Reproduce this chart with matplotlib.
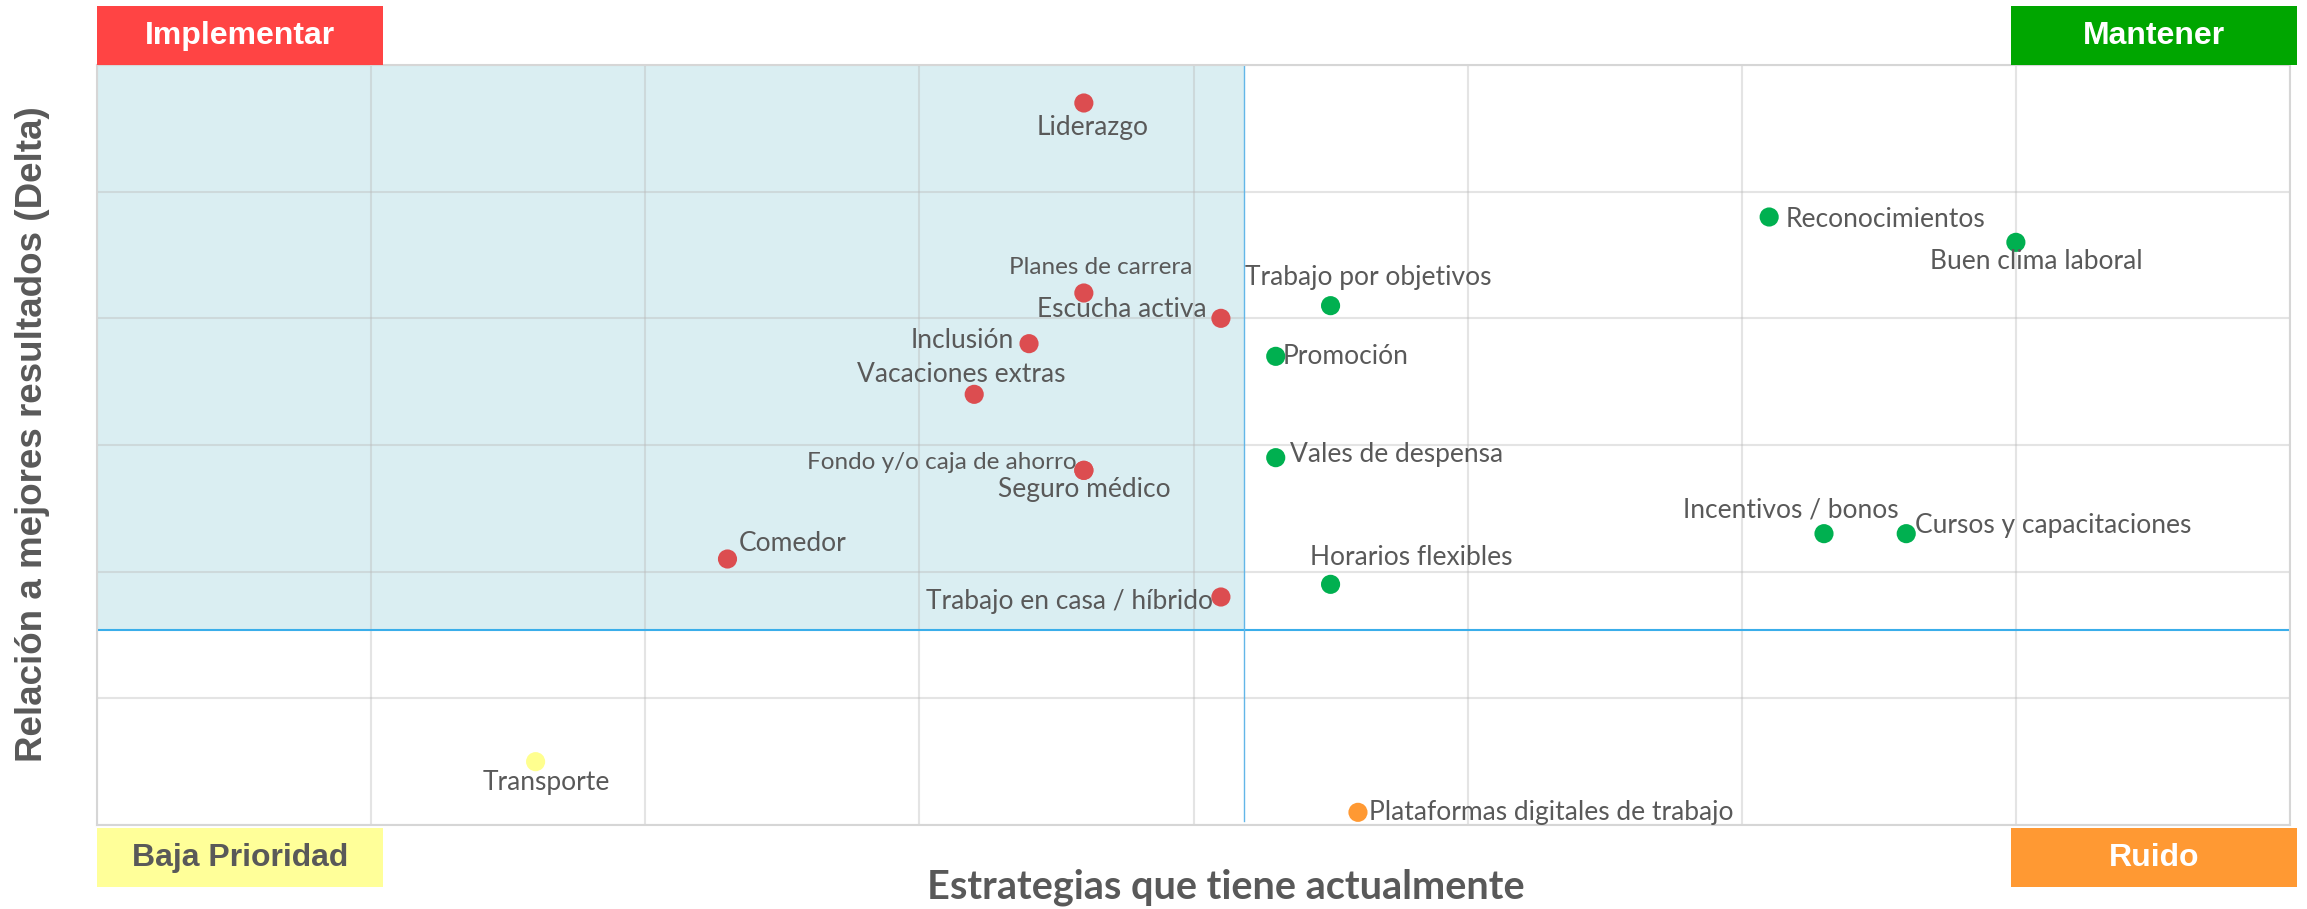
import matplotlib
matplotlib.use('Agg')
import matplotlib.pyplot as plt
from matplotlib.patches import Rectangle

# datos (escala 0-8 en x, 0-6 en y)
nombres = ['Liderazgo', 'Planes de carrera', 'Escucha activa', 'Inclusión',
           'Vacaciones extras', 'Fondo y/o caja de ahorro', 'Seguro médico',
           'Comedor', 'Trabajo en casa / híbrido', 'Transporte',
           'Plataformas digitales de trabajo', 'Trabajo por objetivos',
           'Promoción', 'Vales de despensa', 'Horarios flexibles',
           'Reconocimientos', 'Buen clima laboral', 'Incentivos / bonos',
           'Cursos y capacitaciones']
estrategias = [3.6, 3.6, 4.1, 3.4, 3.2, 3.6, 3.6, 2.3, 4.1, 1.6,
               4.6, 4.5, 4.3, 4.3, 4.5, 6.1, 7.0, 6.3, 6.6]
delta = [5.7, 4.2, 4.0, 3.8, 3.4, 2.8, 2.8, 2.1, 1.8, 0.5,
         0.1, 4.1, 3.7, 2.9, 1.9, 4.8, 4.6, 2.3, 2.3]
grupo = ['Implementar'] * 9 + ['Baja Prioridad', 'Ruido'] + ['Mantener'] * 8

corte_x = 4.185
corte_y = 1.537

colores = {'Implementar': '#dc4d50', 'Mantener': '#00b050',
           'Baja Prioridad': '#ffff8f', 'Ruido': '#ff9933'}

# posicion de cada etiqueta: (dx, dy en puntos, ha, va, tamaño)
etiquetas = {
    'Liderazgo': (6, -9, 'center', 'top', 19),
    'Planes de carrera': (12, 11, 'center', 'bottom', 17.5),
    'Escucha activa': (-10, 6.5, 'right', 'center', 19),
    'Inclusión': (-11, 2, 'right', 'center', 19),
    'Vacaciones extras': (-9, 14.5, 'center', 'center', 19),
    'Fondo y/o caja de ahorro': (-5, 6, 'right', 'center', 17.5),
    'Seguro médico': (0, -14, 'center', 'center', 19),
    'Comedor': (8, 11.5, 'left', 'center', 19),
    'Trabajo en casa / híbrido': (-6, -3, 'right', 'center', 19),
    'Transporte': (8, -15, 'center', 'center', 19),
    'Plataformas digitales de trabajo': (8, 0, 'left', 'center', 19),
    'Trabajo por objetivos': (27, 20, 'center', 'center', 19),
    'Promoción': (5, 0, 'left', 'center', 19),
    'Vales de despensa': (10, 2, 'left', 'center', 19),
    'Horarios flexibles': (58, 19, 'center', 'center', 19),
    'Reconocimientos': (12, -2, 'left', 'center', 19),
    'Buen clima laboral': (15, -14, 'center', 'center', 19),
    'Incentivos / bonos': (-24, 17, 'center', 'center', 19),
    'Cursos y capacitaciones': (6, 6, 'left', 'center', 19),
}

W, H = 2307, 909
fig = plt.figure(figsize=(W / 100, H / 100), dpi=100)
ax = fig.add_axes([97 / W, 1 - 825 / H, (2290 - 97) / W, (825 - 65) / H])
ax.set_xlim(0, 8)
ax.set_ylim(0, 6)
ax.set_xticks(range(9))
ax.set_yticks(range(7))
ax.tick_params(length=0, labelbottom=False, labelleft=False)
ax.grid(True, color='#b8b8b8', alpha=0.38, lw=1.5, zorder=1)
ax.set_axisbelow(True)
for s in ax.spines.values():
    s.set_color('#d6d6d6')
    s.set_linewidth(1.5)

# cuadrante sombreado
ax.add_patch(Rectangle((0, corte_y), corte_x, 6 - corte_y, facecolor='#daeef2',
                       edgecolor='none', zorder=0))
ax.axhline(corte_y, color='#3aaeea', lw=1.5, zorder=2)
ax.axvline(corte_x, ymin=0.005, ymax=1, color='#62b6e8', lw=1, zorder=2)

ax.scatter(estrategias, delta, s=190, c=[colores[g] for g in grupo],
           edgecolors='none', zorder=3)

for n, x, y in zip(nombres, estrategias, delta):
    dx, dy, ha, va, fs = etiquetas[n]
    ax.annotate(n, (x, y), xytext=(dx, dy), textcoords='offset points',
                ha=ha, va=va, fontsize=fs, family='Lato', color='#595959',
                zorder=4)

# cajas de cuadrantes
cajas = [('Implementar', 97, 6, '#ff4444', 'white'),
         ('Mantener', 2011, 6, '#00a600', 'white'),
         ('Baja Prioridad', 97, 828, '#ffff99', '#595959'),
         ('Ruido', 2011, 828, '#ff9933', 'white')]
for txt, x0, y0, fc, tc in cajas:
    fig.patches.append(Rectangle((x0 / W, 1 - (y0 + 59) / H), 286 / W, 59 / H,
                                 transform=fig.transFigure, facecolor=fc,
                                 edgecolor='none'))
    fig.text((x0 + 143) / W, 1 - (y0 + 30) / H, txt, ha='center', va='center',
             fontsize=23, fontweight='bold', family='Liberation Sans', color=tc)

fig.text(33 / W, 1 - 434 / H, 'Relación a mejores resultados (Delta)',
         rotation=90, ha='center', va='center', fontsize=26.5,
         fontweight='bold', family='Liberation Sans', color='#595959')
fig.text(1226 / W, 1 - 887 / H, 'Estrategias que tiene actualmente',
         ha='center', va='center', fontsize=28.5, fontweight='bold',
         family='Lato', color='#595959')

fig.savefig('out.png', dpi=100)
